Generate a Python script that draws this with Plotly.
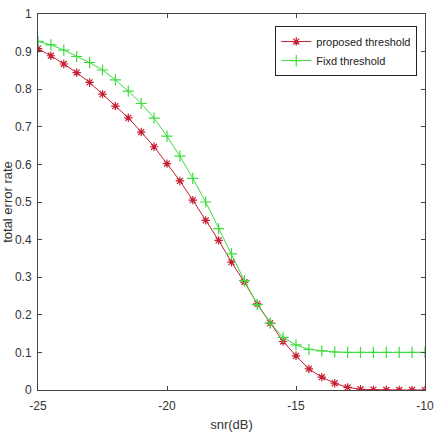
import plotly.graph_objects as go

snr = [-25 + 0.5 * i for i in range(31)]
proposed = [0.908, 0.889, 0.867, 0.844, 0.818, 0.787, 0.755, 0.724, 0.686, 0.647,
            0.602, 0.556, 0.505, 0.451, 0.398, 0.340, 0.287, 0.229, 0.178, 0.129,
            0.091, 0.056, 0.034, 0.018, 0.007, 0.002, 0.001, 0.0, 0.0, 0.0, 0.0]
fixed = [0.927, 0.918, 0.904, 0.887, 0.871, 0.851, 0.825, 0.795, 0.762, 0.723,
         0.675, 0.622, 0.563, 0.500, 0.429, 0.362, 0.291, 0.227, 0.178, 0.140,
         0.120, 0.108, 0.104, 0.101, 0.100, 0.100, 0.100, 0.100, 0.100, 0.100, 0.100]
x_ticks = [-25, -20, -15, -10]
x_tick_text = ["-25", "-20", "-15", "-10"]
y_ticks = [0, 0.1, 0.2, 0.3, 0.4, 0.5, 0.6, 0.7, 0.8, 0.9, 1]
y_tick_text = ["0", "0.1", "0.2", "0.3", "0.4", "0.5", "0.6", "0.7", "0.8", "0.9", "1"]

FONT = "Liberation Sans, Arial"
fig = go.Figure()
fig.add_trace(go.Scatter(
    x=snr, y=proposed, mode="lines+markers", name="proposed threshold",
    line=dict(color="#c41e30", width=1),
    marker=dict(symbol="asterisk-open", size=7, line=dict(color="#c41e30", width=1.2)),
))
fig.add_trace(go.Scatter(
    x=snr, y=fixed, mode="lines+markers", name="Fixd threshold",
    line=dict(color="#3ddc3d", width=1),
    marker=dict(symbol="cross-thin-open", size=8, line=dict(color="#3ddc3d", width=1.2)),
))

axis_common = dict(
    showline=True, linecolor="#444444", linewidth=1, mirror="ticks",
    ticks="inside", ticklen=4, tickcolor="#444444", showgrid=False, zeroline=False,
    tickfont=dict(family=FONT, size=12, color="#333333"), automargin=False,
)
fig.update_layout(
    width=443, height=438,
    margin=dict(l=38, r=18, t=14, b=48),
    paper_bgcolor="white", plot_bgcolor="white",
    showlegend=True,
    legend=dict(x=0.98, y=0.968, xanchor="right", yanchor="top",
                bgcolor="white", bordercolor="#222222", borderwidth=1,
                font=dict(family=FONT, size=11, color="#222222"),
                tracegroupgap=0, itemwidth=30),
    xaxis=dict(range=[-25, -10], tickvals=x_ticks, ticktext=x_tick_text,
               ticklabelstandoff=5,
               title=dict(text="snr(dB)", font=dict(family=FONT, size=13, color="#333333"), standoff=7),
               **axis_common),
    yaxis=dict(range=[0, 1], tickvals=y_ticks, ticktext=y_tick_text,
               ticklabelstandoff=3,
               title=dict(text="total error rate", font=dict(family=FONT, size=13, color="#333333"), standoff=0),
               **axis_common),
)
fig.write_html("out.html")
